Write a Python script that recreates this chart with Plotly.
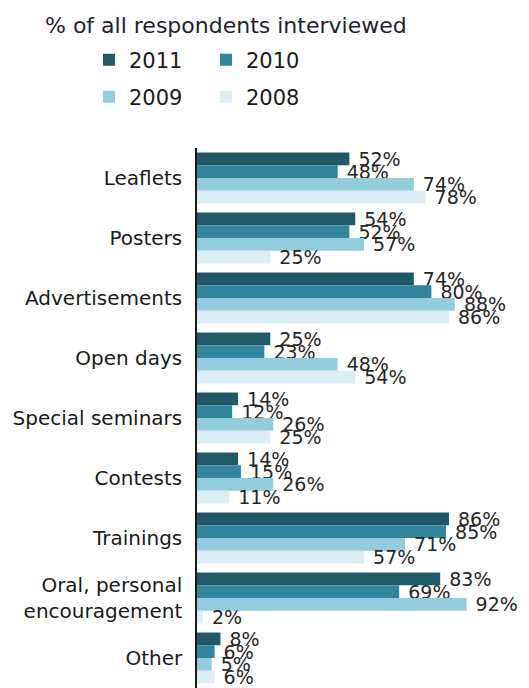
import plotly.graph_objects as go

categories = ["Leaflets", "Posters", "Advertisements", "Open days", "Special seminars",
              "Contests", "Trainings", "Oral, personal<br>encouragement", "Other"]
years = ["2011", "2010", "2009", "2008"]
v2011 = [52, 54, 74, 25, 14, 14, 86, 83, 8]
v2010 = [48, 52, 80, 23, 12, 15, 85, 69, 6]
v2009 = [74, 57, 88, 48, 26, 26, 71, 92, 5]
v2008 = [78, 25, 86, 54, 25, 11, 57, 2, 6]
series = [v2011, v2010, v2009, v2008]
colors = ["#215968", "#31859C", "#93CDDD", "#DAEEF3"]
legends = ["legend", "legend", "legend2", "legend2"]

FONT = "DejaVu Sans"
W, H = 529, 680  # page body adds an 8px margin on top/left

fig = go.Figure()
for name, vals, col, lg in zip(years, series, colors, legends):
    fig.add_trace(go.Bar(
        y=categories, x=vals, name=name, orientation="h",
        marker=dict(color=col, line=dict(width=0)),
        text=vals, texttemplate="\u00a0%{x}%", textposition="outside",
        constraintext="none", cliponaxis=False,
        outsidetextfont=dict(family=FONT, size=19, color="#262626"),
        legend=lg,
    ))

leg_common = dict(orientation="h", xref="container", yref="container", x=81/W, xanchor="left",
                  yanchor="middle", font=dict(family=FONT, size=21, color="#1a1a1a"),
                  entrywidth=72, entrywidthmode="pixels", itemwidth=30,
                  bgcolor="rgba(0,0,0,0)", traceorder="normal")

fig.update_layout(
    width=W, height=H,
    margin=dict(l=189, r=47, t=140, b=0, autoexpand=False),
    paper_bgcolor="white", plot_bgcolor="white",
    barmode="group", bargap=0.15, bargroupgap=0,
    font=dict(family=FONT, color="#1a1a1a"),
    title=dict(text="% of all respondents interviewed", font=dict(family=FONT, size=22, color="#231f30"),
               x=37/W, xanchor="left", xref="container", y=1-17/H, yanchor="middle", yref="container"),
    legend=dict(y=1-52/H, **leg_common),
    legend2=dict(y=1-89/H, **leg_common),
    xaxis=dict(range=[0, 100], visible=False, showgrid=False, zeroline=False),
    yaxis=dict(range=[8.5, -0.5], showline=True, linecolor="#1a1a1a", linewidth=1.5,
               showgrid=False, ticks="", ticklabelstandoff=9, automargin=False,
               tickfont=dict(family=FONT, size=20, color="#1a1a1a")),
)

fig.write_html("out.html")
